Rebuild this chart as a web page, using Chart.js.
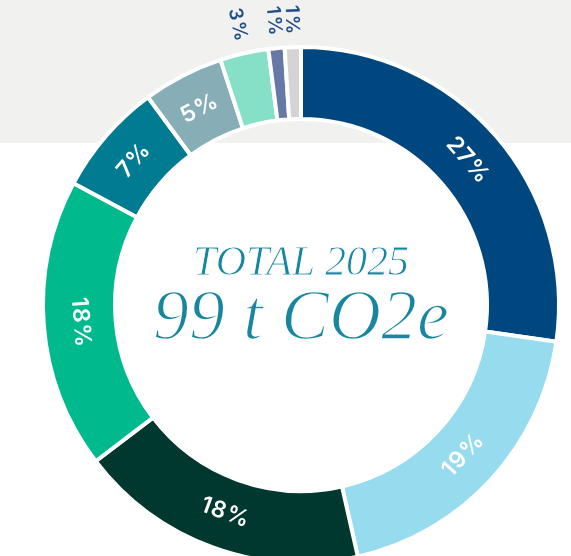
<!DOCTYPE html>
<html>
<head>
<meta charset="utf-8">
<script src="https://cdn.jsdelivr.net/npm/chart.js@4"></script>
<style>
  html, body { margin: 0; padding: 0; width: 571px; height: 556px; overflow: hidden;
    background: linear-gradient(to bottom, #f1f1ef 0, #f1f1ef 143px, #ffffff 143px); }
  #wrap { position: absolute; left: 0; top: 0; width: 602px; height: 610px; }
  #centre { position: absolute; left: 0; top: 0; width: 602px; text-align: center;
    font-family: "Liberation Serif", serif; font-style: italic; font-weight: normal; color: #17869e; }
  #centre .t1 { position: absolute; left: 0; width: 602px; top: 240px; font-size: 42px; line-height: 42px;
    -webkit-text-stroke: 0.8px #ffffff; }
  #centre .t2 { position: absolute; left: 0; width: 602px; top: 279px; font-size: 72px; line-height: 72px;
    -webkit-text-stroke: 1.6px #ffffff; }
</style>
</head>
<body>
<div id="wrap">
  <canvas id="myChart01"></canvas>
  <div id="centre">
    <div class="t1">TOTAL 2025</div>
    <div class="t2">99 t CO2e</div>
  </div>
</div>
<script>
var etiquetas = ['A', 'B', 'C', 'D', 'E', 'F', 'G', 'H', 'I'];
var valores = [27, 19, 18, 18, 7, 5, 3, 1, 1];
var colores = ['#00477f', '#97dbef', '#003830', '#00b98d', '#007b91', '#87adb7', '#86e0c7', '#6678a6', '#d4d4d4'];

// etiquetas de porcentaje: dentro del anillo o fuera si el trozo es pequeño
var pluginEtiquetas = {
    id: 'etiquetas',
    afterDatasetsDraw: function (chart) {
        var ctx = chart.ctx;
        var meta = chart.getDatasetMeta(0);
        meta.data.forEach(function (arc, i) {
            var p = arc.getProps(['x', 'y', 'startAngle', 'endAngle', 'innerRadius', 'outerRadius'], true);
            var mid = (p.startAngle + p.endAngle) / 2;
            var a = mid + Math.PI / 2;
            var texto = valores[i] + '%';
            var r, rot;
            ctx.save();
            if (valores[i] >= 5) {
                r = (p.innerRadius + p.outerRadius) / 2 - 1;
                rot = a;
                if (a > Math.PI / 2 && a < 3 * Math.PI / 2) rot = a - Math.PI;
                ctx.fillStyle = '#ffffff';
                ctx.font = 'normal normal 600 23px Inter, "DejaVu Sans", sans-serif';
                ctx.letterSpacing = '1px';
                ctx.textAlign = 'center';
            } else {
                r = p.outerRadius + 11;
                rot = a + Math.PI / 2;
                ctx.fillStyle = '#1f4e8c';
                ctx.font = 'normal normal 600 19px Inter, "DejaVu Sans", sans-serif';
                ctx.letterSpacing = '2px';
                ctx.textAlign = 'right';
            }
            ctx.translate(p.x + r * Math.cos(mid), p.y + r * Math.sin(mid));
            ctx.rotate(rot);
            ctx.textBaseline = 'middle';
            ctx.fillText(texto, 0, 0);
            ctx.restore();
        });
    }
};

var ctx = document.getElementById('myChart01');
var myChart1 = new Chart(ctx, {
    type: 'doughnut',
    data: {
        labels: etiquetas,
        datasets: [{
            data: valores,
            backgroundColor: colores,
            borderColor: '#ffffff',
            borderWidth: 4
        }]
    },
    options: {
        responsive: true,
        maintainAspectRatio: false,
        animation: false,
        radius: 258,
        cutout: (186 / 258 * 100) + '%',
        plugins: {
            legend: { display: false },
            tooltip: { enabled: false }
        }
    },
    plugins: [pluginEtiquetas]
});
</script>
</body>
</html>
